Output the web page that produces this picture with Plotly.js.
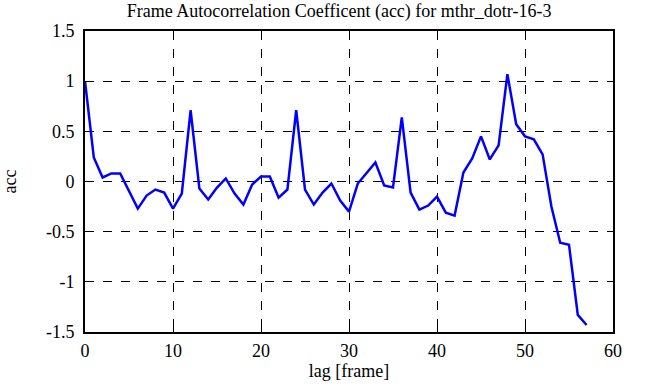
<!DOCTYPE html>
<html><head><meta charset="utf-8">
<script src="https://cdn.plot.ly/plotly-3.0.1.min.js"></script>
<style>html,body{margin:0;padding:0;background:#fff}#chart{width:646px;height:387px}</style>
</head><body><div id="chart"></div>
<script>
const lags = [0,1,2,3,4,5,6,7,8,9,10,11,12,13,14,15,16,17,18,19,20,21,22,23,24,25,26,27,28,29,30,31,32,33,34,35,36,37,38,39,40,41,42,43,44,45,46,47,48,49,50,51,52,53,54,55,56,57];
const acc = [1.0,0.24,0.04,0.08,0.08,-0.10,-0.27,-0.14,-0.08,-0.11,-0.27,-0.12,0.71,-0.07,-0.18,-0.06,0.03,-0.12,-0.23,-0.03,0.05,0.05,-0.16,-0.08,0.71,-0.08,-0.23,-0.11,-0.02,-0.19,-0.30,-0.02,0.08,0.19,-0.04,-0.06,0.64,-0.11,-0.28,-0.24,-0.15,-0.31,-0.34,0.09,0.23,0.45,0.22,0.36,1.07,0.57,0.45,0.42,0.27,-0.25,-0.61,-0.63,-1.33,-1.43];
const xTicks = [0,10,20,30,40,50,60];
const yTicks = [-1.5,-1,-0.5,0,0.5,1,1.5];
const yTickText = ['-1.5','-1','-0.5','0','0.5','1','1.5'];

const FAM = 'Liberation Serif';
function f(size){ return {family:FAM, color:'#000', size:size}; }
function axis(extra){
  return Object.assign({
    showline:true, linecolor:'#000', linewidth:2, mirror:'ticks',
    ticks:'inside', ticklen:6, tickwidth:1, tickcolor:'#000',
    showgrid:true, gridcolor:'#000', gridwidth:1, griddash:'dash',
    zeroline:false, tickfont:f(18)
  }, extra);
}
Plotly.newPlot('chart', [{
  x: lags, y: acc, type:'scatter', mode:'lines',
  line:{color:'#0000ff', width:2.5}
}], {
  width:646, height:387,
  margin:{l:85, r:33, t:31, b:55},
  paper_bgcolor:'#fff', plot_bgcolor:'#fff',
  font: f(18),
  title:{text:'Frame Autocorrelation Coefficent (acc) for mthr_dotr-16-3', font:f(18), x:0.525, xanchor:'center', y:0.972, yanchor:'middle'},
  xaxis: axis({range:[0,60], tickvals:xTicks, ticklabelstandoff:1, title:{text:'lag [frame]', font:f(18), standoff:4}}),
  yaxis: axis({range:[-1.5,1.5], tickvals:yTicks, ticktext:yTickText, ticklabelstandoff:5, title:{text:'acc', font:f(18), standoff:27}}),
  showlegend:false
}, {displayModeBar:false, staticPlot:true});
</script></body></html>
